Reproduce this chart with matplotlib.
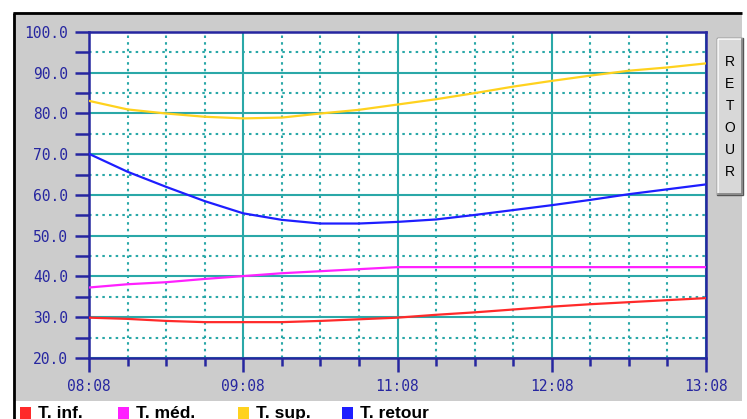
import numpy as np
import matplotlib
matplotlib.use("Agg")
import matplotlib.pyplot as plt
from matplotlib.patches import Rectangle

# time axis: hours after 08:08, sampled on each minor grid step
hours = [0, 0.25, 0.5, 0.75, 1, 1.25, 1.5, 1.75, 2, 2.25, 2.5, 2.75, 3, 3.25, 3.5, 3.75, 4]
t_inf = [29.9, 29.6, 29.1, 28.8, 28.8, 28.8, 29.1, 29.5, 29.9, 30.6, 31.2, 31.9, 32.6, 33.2, 33.7, 34.2, 34.7]
t_med = [37.3, 38.1, 38.6, 39.4, 40.1, 40.8, 41.3, 41.8, 42.3, 42.3, 42.3, 42.3, 42.3, 42.3, 42.3, 42.3, 42.3]
t_sup = [83.1, 81.0, 80.0, 79.2, 78.8, 79.0, 80.0, 80.9, 82.2, 83.5, 85.0, 86.6, 88.0, 89.3, 90.5, 91.3, 92.3]
t_ret = [70.1, 65.7, 62.0, 58.5, 55.5, 53.9, 53.0, 53.0, 53.4, 54.0, 55.1, 56.3, 57.5, 58.8, 60.2, 61.4, 62.6]

xtick_pos = [0, 1, 2, 3, 4]
xtick_labels = ["08:08", "09:08", "11:08", "12:08", "13:08"]
series_names = ["T. inf.", "T. méd.", "T. sup.", "T. retour"]
series_colors = ["#ff2a2a", "#ff20ff", "#ffd21e", "#1e1eff"]

W, H = 747, 419
fig = plt.figure(figsize=(W / 100, H / 100), dpi=100)
fig.patch.set_facecolor("white")

# background layer in pixel coords
bg = fig.add_axes([0, 0, 1, 1], zorder=0)
bg.set_xlim(0, W); bg.set_ylim(H, 0); bg.axis("off")
bg.add_patch(Rectangle((13, 12), 729, 389, facecolor="#cccccc", edgecolor="none"))
bg.plot([13, 742], [13, 13], color="black", lw=2, solid_capstyle="butt")
bg.plot([14, 14], [13, 419], color="black", lw=2, solid_capstyle="butt")

# RETOUR button
bg.add_patch(Rectangle((717, 38), 26, 157, facecolor="#d8d8d8", edgecolor="#555555", lw=1))
bg.plot([718, 718, 742], [194, 39, 39], color="white", lw=1.2)
bg.plot([718, 742, 742], [194, 194, 39], color="#808080", lw=1.2)
for i, ch in enumerate("RETOUR"):
    bg.text(730, 62 + i * 22, ch, ha="center", va="center", fontsize=10,
            family="Liberation Sans", color="black")

# legend
leg_x = [20, 118, 238, 342]
for x0, name, col in zip(leg_x, series_names, series_colors):
    bg.add_patch(Rectangle((x0, 407), 11, 12, facecolor=col, edgecolor="none"))
    bg.text(x0 + 18, 406, name, ha="left", va="top", fontsize=12.5, weight="bold",
            family="Liberation Sans", color="black")

# main chart
navy = "#2626a0"
teal = "#2aa8a8"
ax = fig.add_axes([89 / W, (H - 358) / H, 617 / W, 326 / H], zorder=1)
ax.set_facecolor("white")
ax.set_xlim(0, 4)
ax.set_ylim(20, 100)

ax.set_yticks(np.arange(20, 101, 10))
ax.set_yticks(np.arange(25, 100, 10), minor=True)
ax.set_yticklabels(["%.1f" % v for v in np.arange(20, 101, 10)])
ax.set_xticks(xtick_pos)
ax.set_xticklabels(xtick_labels)
ax.set_xticks(np.arange(0, 4.01, 0.25), minor=True)

ax.grid(which="major", color=teal, lw=1.5, ls="-")
ax.grid(which="minor", color=teal, lw=1.5, ls=(0, (1.2, 2.0)))
ax.set_axisbelow(True)

for s in ax.spines.values():
    s.set_color(navy)
    s.set_linewidth(1.8)
ax.tick_params(axis="y", which="both", length=10, width=1.8, color=navy, pad=5,
               labelcolor=navy, labelsize=10.5)
ax.tick_params(axis="x", which="major", length=10, width=1.8, color=navy, pad=5,
               labelcolor=navy, labelsize=10.5)
ax.tick_params(axis="x", which="minor", length=6, width=1.8, color=navy)
for lab in ax.get_xticklabels() + ax.get_yticklabels():
    lab.set_family("DejaVu Sans Mono")

for ys, col in zip([t_inf, t_med, t_sup, t_ret], series_colors):
    ax.plot(hours, ys, color=col, lw=1.6, zorder=3)

fig.savefig("out.png", dpi=100)
